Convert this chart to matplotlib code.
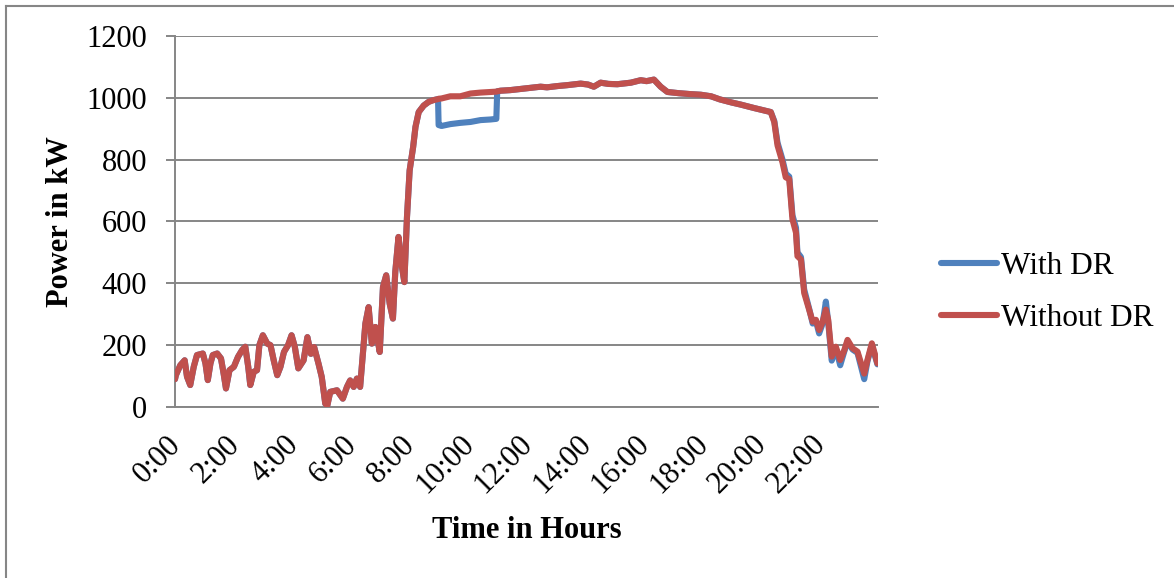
import matplotlib
matplotlib.use("Agg")
import matplotlib.pyplot as plt
from matplotlib.lines import Line2D
from matplotlib.transforms import ScaledTranslation

plt.rcParams['font.family'] = ['Liberation Serif', 'DejaVu Serif']

# time of day in hours
hours = [0.00, 0.03, 0.18, 0.33, 0.41, 0.52, 0.64, 0.75, 0.95, 1.04, 1.12,
         1.21, 1.29, 1.44, 1.57, 1.66, 1.74, 1.86, 2.01, 2.15, 2.29, 2.40,
         2.50, 2.57, 2.69, 2.80, 2.88, 3.00, 3.15, 3.26, 3.37, 3.49, 3.60,
         3.72, 3.86, 3.98, 4.09, 4.21,
         4.39, 4.52, 4.64, 4.75,
         4.90, 5.01, 5.13, 5.20, 5.30, 5.53, 5.73, 5.87, 5.98, 6.10, 6.21,
         6.32, 6.50, 6.61, 6.72, 6.84, 6.99, 7.10, 7.21, 7.33, 7.44, 7.52,
         7.63, 7.73, 7.83, 7.92, 8.01, 8.13, 8.21, 8.32, 8.49, 8.66, 8.80,
         8.98, 9.00, 9.10, 9.40, 9.74, 10.09, 10.43, 10.77, 10.97, 11.00,
         11.11, 11.45, 11.90, 12.20, 12.48, 12.70, 13.05, 13.39, 13.85, 14.10,
         14.30, 14.53, 14.80, 15.10, 15.56, 15.90, 16.10, 16.35, 16.58, 16.81,
         17.20, 17.60, 17.95, 18.30, 18.60, 19.00, 19.32, 19.77, 20.34, 20.46,
         20.57, 20.74, 20.85, 20.97, 21.08, 21.20, 21.25, 21.37, 21.48, 21.65,
         21.77, 21.88, 21.99, 22.11, 22.22, 22.30, 22.42, 22.56, 22.71, 22.85,
         22.96, 23.13, 23.30, 23.53, 23.64, 23.79, 23.98]

without_dr = [90, 103, 135, 151, 98, 71, 130, 168, 173, 141, 87,
              141, 168, 173, 157, 108, 60, 119, 130, 162, 184, 195,
              130, 71, 114, 119, 200, 232, 205, 200, 151, 103, 130,
              178, 200, 232, 195, 125,
              151, 226, 172, 194,
              140, 97, 11, 5, 49, 54, 27, 65, 86, 65, 92,
              65, 270, 323, 205, 259, 178, 388, 426, 334, 286, 437,
              550, 464, 404, 615, 765, 841, 906, 954, 975, 987, 992,
              996, 997, 998, 1005, 1005, 1014, 1017, 1019, 1020, 1021,
              1023, 1025, 1030, 1033, 1036, 1034, 1038, 1041, 1046, 1043,
              1036, 1049, 1045, 1044, 1049, 1057, 1054, 1059, 1036, 1019,
              1015, 1012, 1010, 1005, 995, 985, 978, 967, 954, 921,
              846, 791, 743, 737, 607, 564, 488, 477, 369, 314,
              276, 282, 249, 276, 315, 282, 163, 195, 152, 184,
              217, 190, 179, 108, 152, 206, 141]

with_dr = [90, 103, 135, 151, 98, 71, 130, 168, 173, 141, 87,
           141, 168, 173, 157, 108, 60, 119, 130, 162, 184, 195,
           130, 71, 114, 119, 200, 232, 205, 200, 151, 103, 130,
           178, 200, 232, 195, 125,
           151, 226, 172, 194,
           140, 97, 11, 5, 49, 54, 27, 65, 86, 65, 92,
           65, 270, 323, 205, 259, 178, 388, 426, 334, 286, 437,
           550, 464, 404, 615, 765, 841, 906, 954, 975, 987, 992,
           996, 912, 909, 915, 919, 922, 928, 930, 932, 1021,
           1023, 1025, 1030, 1033, 1036, 1034, 1038, 1041, 1046, 1043,
           1036, 1049, 1045, 1044, 1049, 1057, 1054, 1059, 1036, 1019,
           1015, 1012, 1010, 1005, 995, 985, 978, 967, 954, 925,
           855, 800, 755, 745, 620, 580, 500, 485, 380, 318,
           270, 278, 238, 270, 341, 275, 150, 190, 135, 180,
           212, 186, 175, 90, 148, 200, 138]

tick_hours = [0, 2, 4, 6, 8, 10, 12, 14, 16, 18, 20, 22]
tick_labels = ["0:00", "2:00", "4:00", "6:00", "8:00", "10:00", "12:00",
               "14:00", "16:00", "18:00", "20:00", "22:00"]
y_ticks = [0, 200, 400, 600, 800, 1000, 1200]

BLUE = "#4F81BD"
RED = "#C0504D"
GREY = "#868686"
FS = 22

fig = plt.figure(figsize=(11.74, 5.78), dpi=100)
ax = fig.add_axes([175 / 1174, 1 - 407 / 578, 703 / 1174, 371 / 578])

ax.plot(hours, with_dr, color=BLUE, lw=4.4, solid_capstyle='round',
        solid_joinstyle='round', label="With DR", zorder=3)
ax.plot(hours, without_dr, color=RED, lw=4.4, solid_capstyle='round',
        solid_joinstyle='round', label="Without DR", zorder=4)

ax.set_xlim(0, 24)
ax.set_ylim(0, 1200)
ax.set_yticks(y_ticks)
ax.set_xticks(tick_hours)
ax.grid(axis='y', color=GREY, lw=1.4)
ax.set_axisbelow(True)
for s in ['top', 'right']:
    ax.spines[s].set_visible(False)
for s in ['left', 'bottom']:
    ax.spines[s].set_color(GREY)
    ax.spines[s].set_linewidth(1.4)
ax.tick_params(axis='y', length=6.5, width=1.4, color=GREY, pad=13.5,
               labelsize=FS)
ax.tick_params(axis='x', length=0, pad=16.5, labelsize=FS)
ax.set_xticklabels(tick_labels, rotation=45, ha='right', va='top')
shift = ScaledTranslation(12 / 100, 0, fig.dpi_scale_trans)
for tick in ax.xaxis.get_major_ticks():
    tick.label1.set_transform(tick.label1.get_transform() + shift)

ax.set_xlabel("Time in Hours", fontsize=FS, fontweight='bold')
ax.xaxis.set_label_coords(0.5, -124 / 371)
ax.xaxis.label.set_va('center')
ax.set_ylabel("Power in kW", fontsize=FS, fontweight='bold')
ax.yaxis.set_label_coords(-115 / 703, 0.5)
ax.yaxis.label.set_va('center')

fig.legend(loc='center left', bbox_to_anchor=(941 / 1174, 1 - 292.5 / 578),
           frameon=False, fontsize=22.5, borderpad=0, handlelength=1.8,
           handletextpad=0.12, labelspacing=0.75, borderaxespad=0)

# outer chart border (only left and top edges show)
bx, by = 6 / 1174, 1 - 5.5 / 578
fig.add_artist(Line2D([bx, bx], [0, by], color=GREY, lw=1.5))
fig.add_artist(Line2D([bx, 1], [by, by], color=GREY, lw=1.5))

fig.savefig("out.png", dpi=100)
